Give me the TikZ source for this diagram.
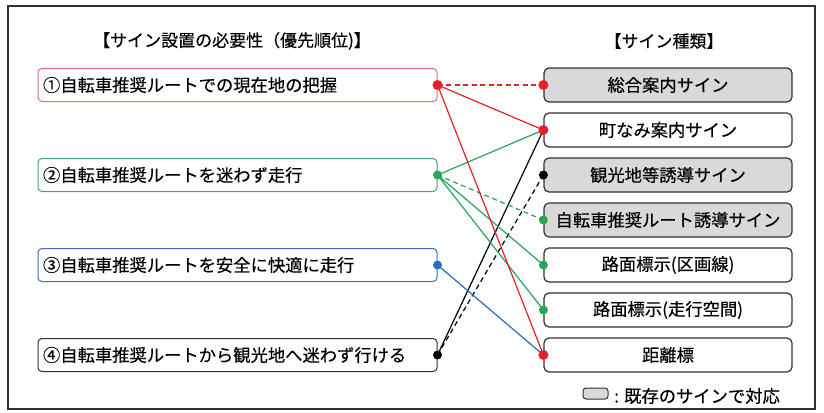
\documentclass[tikz,border=0pt]{standalone}
\usepackage{fontspec}
\setmainfont{Noto Sans CJK JP}[FakeBold=0.35]
\definecolor{cred}{RGB}{228,32,40}
\definecolor{cgreen}{RGB}{40,165,90}
\definecolor{cblue}{RGB}{40,110,185}
\definecolor{bred}{RGB}{225,110,115}
\definecolor{bgreen}{RGB}{70,165,110}
\definecolor{bblue}{RGB}{60,110,185}
\definecolor{boxgray}{RGB}{217,217,217}
\definecolor{edgegray}{RGB}{50,50,50}
\tikzset{
  leftbox/.style={draw=#1, line width=1pt, rounded corners=4pt, fill=white,
    text width=389pt, align=left, inner xsep=5pt, minimum height=33pt, anchor=center},
  rightbox/.style={draw=edgegray, line width=1.2pt, rounded corners=5pt, fill=#1,
    minimum width=248pt, minimum height=34pt, inner sep=0pt, anchor=center},
  link/.style={draw=#1, line width=1.2pt},
  dlink/.style={draw=#1, line width=1.2pt, dash pattern=on 5pt off 3.5pt},
  hdr/.style={font=\fontsize{17}{19}\selectfont, anchor=center}
}
\begin{document}
\begin{tikzpicture}[x=1pt,y=-1pt, font=\fontsize{17.3}{19}\selectfont]
\useasboundingbox (0,0) rectangle (824,412);
\fill[white] (0,0) rectangle (824,412);
\draw[edgegray, line width=1.2pt] (8,6) rectangle (815,409);

\node[hdr] (h1) at (232,41) {【サイン設置の必要性（優先順位)】};
\node[hdr] (h2) at (664,41) {【サイン種類】};

\node[leftbox=bred]   (L1) at (237.5,85)  {①自転車推奨ルートでの現在地の把握};
\node[leftbox=bgreen] (L2) at (237.5,175) {②自転車推奨ルートを迷わず走行};
\node[leftbox=bblue]  (L3) at (237.5,265) {③自転車推奨ルートを安全に快適に走行};
\node[leftbox=edgegray] (L4) at (237.5,355) {④自転車推奨ルートから観光地へ迷わず行ける};

\node[rightbox=boxgray] (R1) at (668,85)  {総合案内サイン};
\node[rightbox=white]   (R2) at (668,130) {町なみ案内サイン};
\node[rightbox=boxgray] (R3) at (668,175) {観光地等誘導サイン};
\node[rightbox=boxgray] (R4) at (668,220) {自転車推奨ルート誘導サイン};
\node[rightbox=white]   (R5) at (668,265) {路面標示(区画線)};
\node[rightbox=white]   (R6) at (668,310) {路面標示(走行空間)};
\node[rightbox=white]   (R7) at (668,355) {距離標};

% legend
\draw[edgegray, fill=boxgray, line width=1pt, rounded corners=3pt] (583,388) rectangle (608,399);
\node[anchor=west, inner sep=0pt] (lg) at (614,396) {: 既存のサインで対応};

% connectors
\draw[link=black] (L4.east) -- (R2.west);
\draw[dlink=black] (L4.east) -- (R3.west);
\draw[link=cblue] (L3.east) -- (R7.west);
\draw[link=cgreen] (L2.east) -- (R2.west);
\draw[dlink=cgreen] (L2.east) -- (R4.west);
\draw[link=cgreen] (L2.east) -- (R5.west);
\draw[link=cgreen] (L2.east) -- (R6.west);
\draw[dlink=cred] (L1.east) -- (R1.west);
\draw[link=cred] (L1.east) -- (R2.west);
\draw[link=cred] (L1.east) -- (R7.west);

% dots
\fill[black] (L4.east) circle (4.5pt);
\fill[black] (R3.west) circle (4.5pt);
\fill[cblue] (L3.east) circle (4.5pt);
\fill[cgreen] (L2.east) circle (4.5pt);
\fill[cgreen] (R4.west) circle (4.5pt);
\fill[cgreen] (R5.west) circle (4.5pt);
\fill[cgreen] (R6.west) circle (4.5pt);
\fill[cred] (L1.east) circle (5pt);
\fill[cred] (R1.west) circle (5pt);
\fill[cred] (R2.west) circle (5pt);
\fill[cred] (R7.west) circle (5pt);
\end{tikzpicture}
\end{document}
